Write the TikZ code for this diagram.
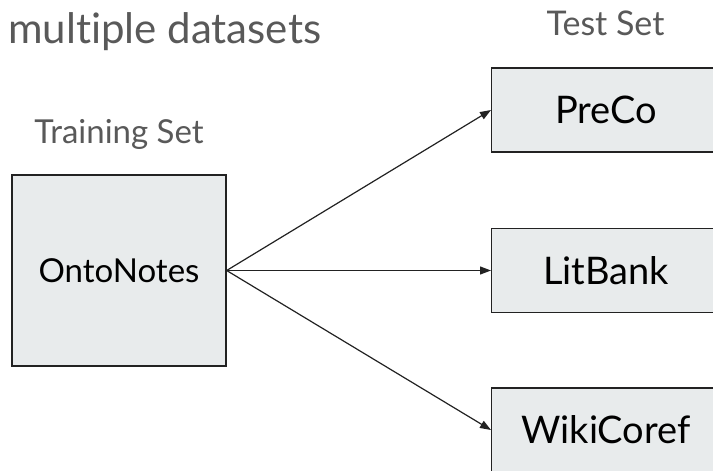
\documentclass[tikz,border=0pt]{standalone}
\usepackage{fontspec}
\setmainfont{Lato}[Ligatures=NoCommon]
\usetikzlibrary{arrows.meta}
\definecolor{boxfill}{HTML}{E8EBEC}
\definecolor{titlegray}{HTML}{595959}
\definecolor{linedark}{HTML}{222222}
\tikzset{
  dsbox/.style={draw=linedark, line width=1.3pt, fill=boxfill, inner sep=0pt, text=black},
  testlabel/.style={font=\fontsize{38}{44}\selectfont, inner sep=0pt, text=black},
  headline/.style={text=titlegray, inner sep=0pt},
  conn/.style={draw=linedark, line width=1.2pt, -{Triangle[length=11pt,width=8pt]}}
}
\begin{document}
\begin{tikzpicture}[x=1pt,y=-1pt]
\useasboundingbox (0,0) rectangle (713,471);
\clip (0,0) rectangle (713,471);
\node[headline, anchor=base west, font=\fontsize{42}{48}\selectfont] (title) at (8,43) {multiple datasets};
\node[headline, anchor=base, font=\fontsize{33}{38}\selectfont] (train) at (119,143) {Training Set};
\node[headline, anchor=base, font=\fontsize{34}{38}\selectfont] (test) at (605.5,35) {Test Set};
\node[dsbox, font=\fontsize{33}{38}\selectfont, minimum width=214pt, minimum height=191pt] (onto) at (119,270.5) {OntoNotes};
\node[dsbox, minimum width=240pt, minimum height=84pt, anchor=west] (preco) at (491,110) {};
\node[dsbox, minimum width=240pt, minimum height=84pt, anchor=west] (litbank) at (491,270.5) {};
\node[dsbox, minimum width=240pt, minimum height=84pt, anchor=west] (wiki) at (491,430) {};
\node[testlabel] (precot) at (606,110) {PreCo};
\node[testlabel] (litbankt) at (606,270.5) {LitBank};
\node[testlabel] (wikit) at (606,430) {WikiCoref};
\draw[conn] (onto.east) -- (preco.west);
\draw[conn] (onto.east) -- (litbank.west);
\draw[conn] (onto.east) -- (wiki.west);
\end{tikzpicture}
\end{document}
